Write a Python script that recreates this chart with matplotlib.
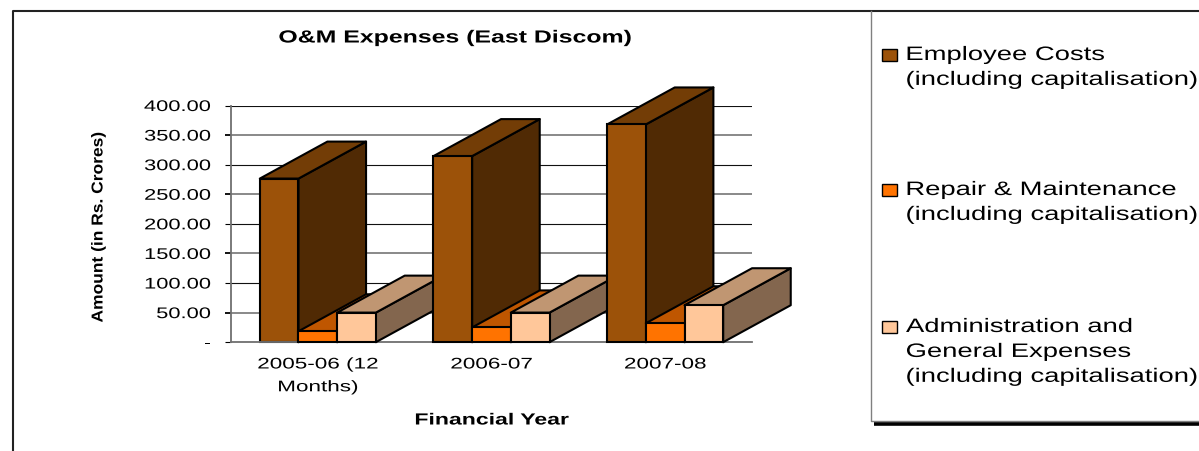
#!/usr/bin/env python3
"""O&M expenses chart, drawn as pseudo-3D bars with a side legend panel."""

import matplotlib
matplotlib.use("Agg")
import matplotlib.pyplot as plt
from matplotlib.patches import Polygon, Rectangle
from matplotlib.patheffects import AbstractPathEffect
from matplotlib.transforms import Affine2D

years = ["2005-06 (12\nMonths)", "2006-07", "2007-08"]
employee = [276.5, 314.5, 368.0]
repair = [18.5, 25.0, 32.0]
admin = [50.0, 50.0, 62.5]
y_ticks = [0, 50, 100, 150, 200, 250, 300, 350, 400]
y_labels = ["-", "50.00", "100.00", "150.00", "200.00", "250.00", "300.00", "350.00", "400.00"]
legend_labels = [
    "Employee Costs\n(including capitalisation)",
    "Repair & Maintenance\n(including capitalisation)",
    "Administration and\nGeneral Expenses\n(including capitalisation)",
]

FRONT = ["#9C5209", "#FF7300", "#FFC79A"]
TOP = ["#733D06", "#BF5600", "#C09672"]
SIDE = ["#502A04", "#803A00", "#83664E"]

W, H = 1199, 452
BAR_W = 0.2227
DEPTH_X = 0.389   # in category units
DEPTH_Y = 62.5    # in value units
FONT = "Liberation Sans"


class Stretch(AbstractPathEffect):
    """Scale glyph outlines about a fraction of their extents (wide-set type)."""

    def __init__(self, sx=1.0, sy=1.0, ax=0.5, ay=0.5):
        self.sx, self.sy, self.ax, self.ay = sx, sy, ax, ay

    def draw_path(self, renderer, gc, tpath, affine, rgbFace=None):
        box = tpath.get_extents(affine)
        x0 = box.x0 + self.ax * box.width
        y0 = box.y0 + self.ay * box.height
        extra = Affine2D().translate(-x0, -y0).scale(self.sx, self.sy).translate(x0, y0)
        renderer.draw_path(gc, tpath, affine + extra, rgbFace)


fig = plt.figure(figsize=(W / 100, H / 100), dpi=100)

# page-level layer in pixel coordinates: frame, titles, legend
bg = fig.add_axes([0, 0, 1, 1])
bg.set_xlim(0, W)
bg.set_ylim(H, 0)
bg.axis("off")
bg.plot([12.5, 12.5, W], [H, 11.5, 11.5], color="#222222", lw=1.5, solid_capstyle="butt")
bg.plot([870.5, 870.5, W], [11.5, 422, 422], color="#808080", lw=1.0)
bg.plot([874, W], [424.5, 424.5], color="black", lw=2.6, solid_capstyle="butt")

bg.text(455, 39, "O&M Expenses (East Discom)", family=FONT, fontsize=12.6, weight="bold",
        ha="center", va="center", path_effects=[Stretch(sx=1.42)])
bg.text(492, 421, "Financial Year", family=FONT, fontsize=11.6, weight="bold",
        ha="center", va="center", path_effects=[Stretch(sx=1.43)])
bg.text(98, 228, "Amount (in Rs. Crores)", family=FONT, fontsize=11.4, weight="bold",
        rotation=90, ha="center", va="center", path_effects=[Stretch(sy=1.1)])

swatch_y = [50, 185, 322]
for i, (label, y) in enumerate(zip(legend_labels, swatch_y)):
    bg.add_patch(Rectangle((882, y), 15, 11.5, facecolor=FRONT[i], edgecolor="black", lw=1.0))
    bg.text(906, y - 2, label, family=FONT, fontsize=14.0, ha="left", va="top",
            linespacing=1.61, path_effects=[Stretch(sx=1.41, ax=0.0)])

# plot area
ax = fig.add_axes([231 / W, (H - 343.2) / H, 521 / W, 236.7 / H])
ax.patch.set_alpha(0)
ax.set_xlim(-0.5, 2.5)
ax.set_ylim(0, 400)
for name in ["top", "right"]:
    ax.spines[name].set_visible(False)
for name in ["left", "bottom"]:
    ax.spines[name].set_color("#707070")
    ax.spines[name].set_linewidth(1.3)

ax.set_yticks(y_ticks)
ax.set_yticklabels(y_labels, family=FONT, fontsize=11.1, path_effects=[Stretch(sx=1.42, ax=1.0)])
ax.tick_params(axis="y", length=4.5, width=1.0, pad=10)
ax.set_xticks(range(len(years)))
ax.set_xticklabels(years, family=FONT, fontsize=11.1, linespacing=1.8,
                   path_effects=[Stretch(sx=1.46)])
ax.tick_params(axis="x", length=0, pad=11)

# grid lines come out alternately dark and thin, grey and heavier
for i, tick in enumerate(ax.yaxis.get_major_ticks()):
    dark = (len(y_ticks) - 1 - i) % 2 == 0
    color = "#111111" if dark else "#808080"
    width = 0.8 if dark else 1.3
    ax.axhline(y_ticks[i], color=color, lw=width, zorder=0.5)
    tick.tick1line.set_color(color)
    tick.tick1line.set_markeredgewidth(width)


def draw_box(x, value, s, z):
    """One bar: side and top faces offset backwards, then the front face."""
    edge = dict(edgecolor="black", linewidth=1.5, joinstyle="round", clip_on=False, zorder=z)
    xr = x + BAR_W
    side = [(xr, 0), (xr + DEPTH_X, DEPTH_Y), (xr + DEPTH_X, value + DEPTH_Y), (xr, value)]
    top = [(x, value), (x + DEPTH_X, value + DEPTH_Y), (xr + DEPTH_X, value + DEPTH_Y), (xr, value)]
    ax.add_patch(Polygon(side, closed=True, facecolor=SIDE[s], **edge))
    ax.add_patch(Polygon(top, closed=True, facecolor=TOP[s], **edge))
    ax.bar(x, value, BAR_W, align="edge", color=FRONT[s], clip_on=False, zorder=z,
           edgecolor="black", linewidth=1.5)


series = [employee, repair, admin]
z = 2
for g in range(len(years)):
    for s in range(len(series)):
        draw_box(g + (s - 1.5) * BAR_W, series[s][g], s, z)
        z += 1

ax.set_xlim(-0.5, 2.5)
ax.set_ylim(0, 400)
fig.savefig("out.png", dpi=100)
